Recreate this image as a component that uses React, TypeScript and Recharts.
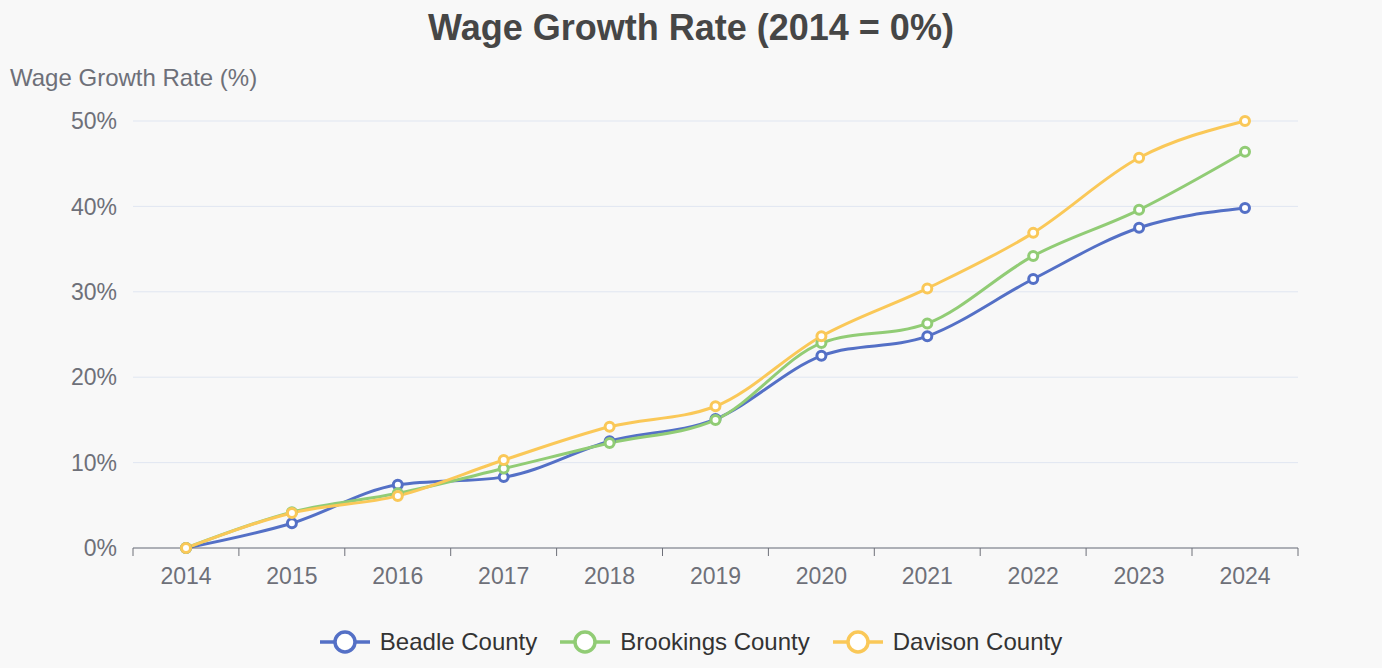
import { LineChart, Line, XAxis, YAxis, CartesianGrid } from 'recharts'

const years = ['2014', '2015', '2016', '2017', '2018', '2019', '2020', '2021', '2022', '2023', '2024']
const beadle = [0, 2.9, 7.4, 8.3, 12.5, 15.1, 22.5, 24.8, 31.5, 37.5, 39.8]
const brookings = [0, 4.2, 6.4, 9.3, 12.3, 15.0, 24.0, 26.3, 34.2, 39.6, 46.4]
const davison = [0, 4.1, 6.1, 10.3, 14.2, 16.6, 24.8, 30.4, 36.9, 45.7, 50.0]
const yTicks = [0, 10, 20, 30, 40, 50]

const series = [
  { key: 'beadle', name: 'Beadle County', color: '#5470c6', values: beadle },
  { key: 'brookings', name: 'Brookings County', color: '#91cc75', values: brookings },
  { key: 'davison', name: 'Davison County', color: '#fac858', values: davison },
]

const data = years.map((year, i) => {
  const row: { year: string; [key: string]: number | string } = { year }
  series.forEach((s) => {
    row[s.key] = s.values[i]
  })
  return row
})

const FONT = '"Liberation Sans", Arial, Helvetica, sans-serif'
const WIDTH = 1382
const HEIGHT = 668
const margin = { top: 121, right: 84, bottom: 90, left: 0 }
const Y_WIDTH = 133
const PAD = 53

// category label in the band centre, tick marks on the band edges (echarts style)
const XTick = (props: any) => {
  const { x, y, payload, index } = props
  const last = index === years.length - 1
  return (
    <g>
      <line x1={x - PAD} x2={x - PAD} y1={y - 8} y2={y} stroke="#6e7079" strokeWidth={1} />
      {last && <line x1={x + PAD} x2={x + PAD} y1={y - 8} y2={y} stroke="#6e7079" strokeWidth={1} />}
      <text x={x} y={y + 28} textAnchor="middle" fill="#6e7079" fontSize={23} fontFamily={FONT}>
        {payload.value}
      </text>
    </g>
  )
}

export default function App() {
  return (
    <div
      style={{
        position: 'absolute',
        left: 0,
        top: 0,
        width: WIDTH,
        height: HEIGHT,
        background: '#f8f8f8',
        fontFamily: FONT,
        overflow: 'hidden',
      }}
    >
      <div
        style={{
          position: 'absolute',
          top: 7,
          left: 0,
          width: WIDTH,
          textAlign: 'center',
          fontSize: 36,
          fontWeight: 'bold',
          color: '#464646',
          lineHeight: '42px',
        }}
      >
        Wage Growth Rate (2014 = 0%)
      </div>
      <div
        style={{
          position: 'absolute',
          top: 64,
          left: 10,
          fontSize: 24,
          color: '#6e7079',
          lineHeight: '28px',
        }}
      >
        Wage Growth Rate (%)
      </div>

      <LineChart width={WIDTH} height={HEIGHT} data={data} margin={margin}>
        <CartesianGrid vertical={false} stroke="#e0e6f1" />
        <XAxis
          dataKey="year"
          height={30}
          padding={{ left: PAD, right: PAD }}
          stroke="#6e7079"
          tickLine={false}
          tick={<XTick />}
          interval={0}
        />
        <YAxis
          width={Y_WIDTH}
          domain={[0, 50]}
          ticks={yTicks}
          tickFormatter={(v) => `${v}%`}
          axisLine={false}
          tickLine={false}
          tickMargin={10}
          tick={{ fill: '#6e7079', fontSize: 23, fontFamily: FONT }}
        />
        {series.map((s) => (
          <Line
            key={s.key}
            dataKey={s.key}
            name={s.name}
            type="monotone"
            stroke={s.color}
            strokeWidth={3}
            dot={{ r: 4.5, fill: '#fff', stroke: s.color, strokeWidth: 3 }}
            activeDot={false}
            isAnimationActive={false}
          />
        ))}
      </LineChart>

      <div
        style={{
          position: 'absolute',
          top: 628,
          left: 0,
          width: WIDTH,
          display: 'flex',
          justifyContent: 'center',
          gap: 23,
          fontSize: 24,
          color: '#333',
        }}
      >
        {series.map((s) => (
          <div key={s.key} style={{ display: 'flex', alignItems: 'center', height: 28 }}>
            <svg width={50} height={28} style={{ marginRight: 10 }}>
              <line x1={0} x2={50} y1={14} y2={14} stroke={s.color} strokeWidth={3.5} />
              <circle cx={25} cy={14} r={10} fill="#fff" stroke={s.color} strokeWidth={3.5} />
            </svg>
            <span>{s.name}</span>
          </div>
        ))}
      </div>
    </div>
  )
}
